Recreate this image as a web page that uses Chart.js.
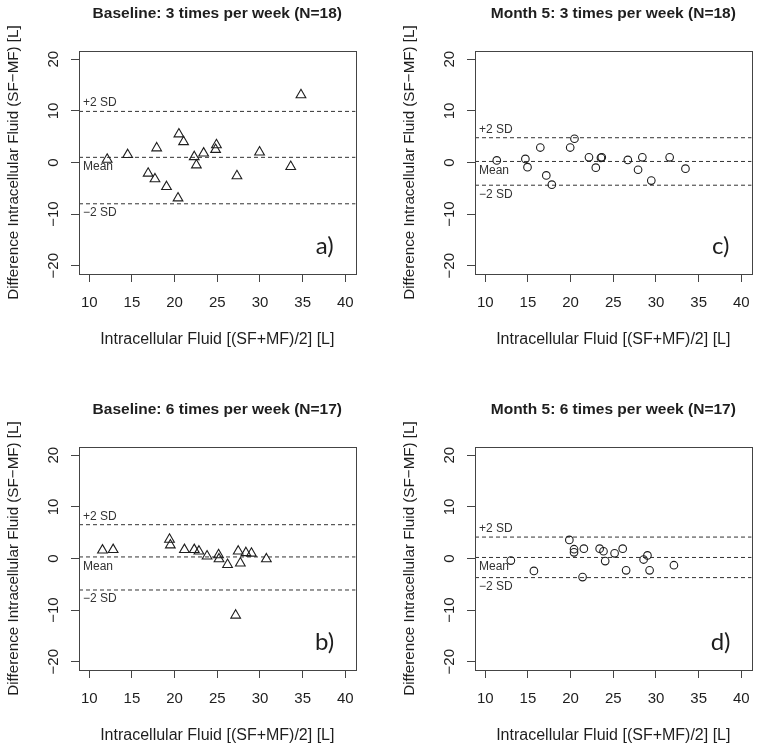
<!DOCTYPE html>
<html>
<head>
<meta charset="utf-8">
<script src="https://cdn.jsdelivr.net/npm/chart.js@4.4.1/dist/chart.umd.min.js"></script>
<style>
  html, body { margin: 0; padding: 0; background: #fff; width: 761px; height: 751px; overflow: hidden; }
  canvas { position: absolute; }
</style>
</head>
<body>
<canvas id="chartA" width="366" height="390" style="left:0px;top:0px"></canvas>
<canvas id="chartC" width="366" height="390" style="left:396px;top:0px"></canvas>
<canvas id="chartB" width="366" height="390" style="left:0px;top:396px"></canvas>
<canvas id="chartD" width="366" height="390" style="left:396px;top:396px"></canvas>
<script>
// axes (R style: limits padded 4%)
const X_TICKS = [10, 15, 20, 25, 30, 35, 40];
const Y_TICKS = [-20, -10, 0, 10, 20];
const X_RANGE = [8.8, 41.2];
const Y_RANGE = [-21.6, 21.6];
const SD_LABELS = ['+2 SD', 'Mean', '\u22122 SD'];
const X_TITLE = 'Intracellular Fluid [(SF+MF)/2] [L]';
const Y_TITLE = 'Difference Intracellular Fluid (SF\u2212MF) [L]';

// a) Baseline, 3 times per week
const aX = [12.1, 14.5, 16.9, 17.7, 17.9, 19.05, 20.4, 20.5, 21.05, 22.3, 22.55, 23.4, 24.8, 24.9, 27.3, 29.95, 33.6, 34.8];
const aY = [0.6, 1.5, -2.1, -3.2, 2.8, -4.7, -6.9, 5.5, 4.0, 1.1, -0.5, 1.8, 2.5, 3.4, -2.6, 2.0, -0.8, 13.1];
const aLimits = [9.9, 1.0, -8.0];

// c) Month 5, 3 times per week
const cX = [11.35, 14.7, 14.95, 16.45, 17.15, 17.8, 19.95, 20.45, 22.15, 22.95, 23.55, 23.65, 26.7, 27.9, 28.4, 29.45, 31.6, 33.45];
const cY = [0.4, 0.7, -0.9, 2.9, -2.5, -4.3, 2.9, 4.6, 1.0, -1.0, 0.9, 1.0, 0.5, -1.4, 1.0, -3.5, 1.0, -1.2];
const cLimits = [4.8, 0.2, -4.4];

// b) Baseline, 6 times per week
const bX = [11.55, 12.8, 19.4, 19.5, 21.15, 22.3, 22.85, 23.8, 25.15, 25.2, 26.2, 27.15, 27.45, 27.7, 28.35, 29.0, 30.75];
const bY = [1.6, 1.7, 3.7, 2.6, 1.7, 1.7, 1.4, 0.45, 0.7, -0.1, -1.2, -11.0, 1.4, -0.9, 1.1, 1.0, -0.1];
const bLimits = [6.55, 0.3, -6.1];

// d) Month 5, 6 times per week
const dX = [13.0, 15.7, 19.85, 20.4, 20.4, 21.55, 21.4, 23.4, 23.85, 24.05, 25.15, 26.1, 26.5, 28.55, 29.0, 29.25, 32.1];
const dY = [-0.4, -2.4, 3.6, 1.8, 1.2, 1.9, -3.6, 1.9, 1.4, -0.5, 1.0, 1.9, -2.3, -0.2, 0.6, -2.3, -1.3];
const dLimits = [4.15, 0.2, -3.7];

const panels = [
  { canvasId: 'chartA', title: 'Baseline: 3 times per week (N=18)', letter: 'a)', style: 'triangle', xs: aX, ys: aY, limits: aLimits },
  { canvasId: 'chartC', title: 'Month 5: 3 times per week (N=18)', letter: 'c)', style: 'circle', xs: cX, ys: cY, limits: cLimits },
  { canvasId: 'chartB', title: 'Baseline: 6 times per week (N=17)', letter: 'b)', style: 'triangle', xs: bX, ys: bY, limits: bLimits },
  { canvasId: 'chartD', title: 'Month 5: 6 times per week (N=17)', letter: 'd)', style: 'circle', xs: dX, ys: dY, limits: dLimits }
];

const FONT = '"Liberation Sans", Arial, sans-serif';
const INK = '#1e1e1e';

// box, rotated y labels, titles and annotations
const panelText = {
  id: 'panelText',
  afterDraw(chart, args, opts) {
    const ctx = chart.ctx;
    const area = chart.chartArea;
    const yScale = chart.scales.y;
    ctx.save();
    ctx.strokeStyle = '#444';
    ctx.lineWidth = 1;
    ctx.strokeRect(Math.round(area.left) + 0.5, Math.round(area.top) + 0.5,
      Math.round(area.right - area.left), Math.round(area.bottom - area.top));

    ctx.fillStyle = INK;
    ctx.textAlign = 'center';
    ctx.textBaseline = 'middle';

    // y tick labels, parallel to axis
    ctx.font = '15px ' + FONT;
    yScale.ticks.forEach(t => {
      const py = yScale.getPixelForValue(t.value);
      ctx.save();
      ctx.translate(area.left - 25, py);
      ctx.rotate(-Math.PI / 2);
      ctx.fillText(t.value < 0 ? '\u2212' + Math.abs(t.value) : String(t.value), 0, 0);
      ctx.restore();
    });

    // axis titles
    const midY = (area.top + area.bottom) / 2;
    ctx.font = '15.2px ' + FONT;
    ctx.save();
    ctx.translate(14, midY);
    ctx.rotate(-Math.PI / 2);
    ctx.fillText(Y_TITLE, 0, 0);
    ctx.restore();
    ctx.font = '16px ' + FONT;
    ctx.fillText(X_TITLE, (area.left + area.right) / 2, area.bottom + 66);

    // main title
    ctx.font = 'bold 15.5px ' + FONT;
    ctx.fillText(opts.title, (area.left + area.right) / 2, 14);

    // limit labels
    ctx.font = '12px ' + FONT;
    ctx.fillStyle = '#333';
    ctx.textAlign = 'left';
    const shifts = [-8.5, 9.5, 9];
    opts.limits.forEach((v, i) => {
      ctx.fillText(SD_LABELS[i], area.left + 4, yScale.getPixelForValue(v) + shifts[i]);
    });

    // panel letter
    ctx.font = '24px Lato, "Open Sans", sans-serif';
    ctx.fillStyle = INK;
    ctx.textAlign = 'center';
    ctx.fillText(opts.letter, area.right - 31, area.bottom - 28);
    ctx.restore();
  }
};

panels.forEach(p => {
  const points = p.xs.map((x, i) => ({ x: x, y: p.ys[i] }));
  const limitSets = p.limits.map(v => ({
    type: 'line',
    data: [{ x: X_RANGE[0], y: v }, { x: X_RANGE[1], y: v }],
    borderColor: '#333',
    borderWidth: 1,
    borderDash: [4, 3],
    pointRadius: 0,
    fill: false
  }));

  new Chart(document.getElementById(p.canvasId), {
    type: 'scatter',
    data: {
      datasets: [{
        data: points,
        pointStyle: p.style,
        pointRadius: p.style === 'triangle' ? 5.6 : 3.8,
        borderColor: INK,
        backgroundColor: 'rgba(0,0,0,0)',
        pointBorderWidth: 1.1
      }].concat(limitSets)
    },
    options: {
      responsive: false,
      animation: false,
      layout: { padding: { left: 49, right: 8, top: 51, bottom: 76 } },
      plugins: {
        legend: { display: false },
        tooltip: { enabled: false },
        panelText: { title: p.title, letter: p.letter, limits: p.limits }
      },
      scales: {
        x: {
          type: 'linear',
          min: X_RANGE[0],
          max: X_RANGE[1],
          afterBuildTicks: scale => { scale.ticks = X_TICKS.map(v => ({ value: v })); },
          afterFit: scale => { scale.height = 40; },
          border: { display: false },
          grid: { drawOnChartArea: false, drawTicks: true, tickLength: 8, color: '#444' },
          ticks: { color: INK, font: { family: FONT, size: 15 }, padding: 12, maxRotation: 0 }
        },
        y: {
          type: 'linear',
          min: Y_RANGE[0],
          max: Y_RANGE[1],
          afterBuildTicks: scale => { scale.ticks = Y_TICKS.map(v => ({ value: v })); },
          afterFit: scale => { scale.width = 30; },
          border: { display: false },
          grid: { drawOnChartArea: false, drawTicks: true, tickLength: 8, color: '#444' },
          ticks: { display: false }
        }
      }
    },
    plugins: [panelText]
  });
});
</script>
</body>
</html>
